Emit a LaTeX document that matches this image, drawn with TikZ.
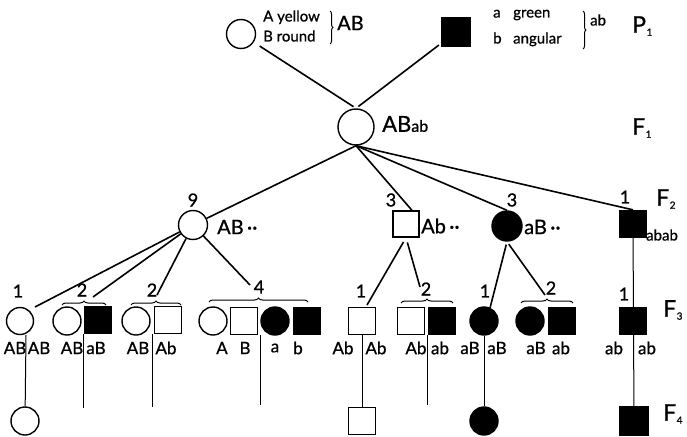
\documentclass[tikz,border=0pt]{standalone}
\usepackage{fontspec}
\setmainfont{Lato}[FakeBold=0.8]
\usepackage{tikz}
\usetikzlibrary{decorations.pathreplacing}

\newcommand{\genlabel}[2]{{\fontsize{23}{24}\selectfont #1}\kern0.5pt\raisebox{-3pt}{\fontsize{10}{12}\selectfont #2}}

\begin{document}
\begin{tikzpicture}[
	x=1pt, y=-1pt,
	every node/.style={inner sep=0pt, font=\fontsize{16}{18}\selectfont},
	wcirc/.style={circle, draw, line width=1.4pt, minimum size=28pt, fill=white},
	bcirc/.style={wcirc, fill=black},
	wsq/.style={rectangle, draw, line width=1.3pt, minimum size=26pt, fill=white},
	bsq/.style={wsq, fill=black},
	link/.style={line width=1.6pt},
	split/.style={line width=1pt},
	grpbrace/.style={decorate, decoration={brace, amplitude=4pt}, line width=1pt},
	vbrace/.style={decorate, decoration={brace, amplitude=3pt}, line width=1pt},
	txt/.style={font=\fontsize{15}{20}\selectfont},
	geno/.style={font=\fontsize{20}{22}\selectfont},
	lab/.style={font=\fontsize{17}{19}\selectfont},
	num/.style={font=\fontsize{18}{20}\selectfont}
	]
	\useasboundingbox (0,0) rectangle (687,436);

	% ---------------- P1 ----------------
	\node[wcirc, minimum size=29pt] (p1w) at (241,34) {};
	\node[txt, anchor=west, align=left] (p1wtxt) at (263,26) {A yellow\\B round};
	\draw[vbrace] (330,11) -- (330,44);
	\node[geno, anchor=west] (p1wgeno) at (337,23) {AB};

	\node[bsq, minimum size=28pt] (p1b) at (456,32) {};
	\node[txt, anchor=west, align=left, font=\fontsize{15}{26}\selectfont] (p1btxt) at (493,28)
		{\makebox[20pt][l]{a}green\\\makebox[20pt][l]{b}angular};
	\draw[vbrace] (583,11) -- (583,49);
	\node[txt, anchor=west] (p1bgeno) at (590,20) {ab};

	\node[anchor=west] (genp) at (632,26) {\genlabel{P}{1}};

	% ---------------- F1 ----------------
	\node[wcirc, minimum size=36pt] (f1) at (356,127) {};
	\node[anchor=west] (f1geno) at (382,124) {{\fontsize{22}{22}\selectfont AB}{\fontsize{16}{16}\selectfont ab}};
	\node[anchor=west] (genf1) at (632,128) {\genlabel{F}{1}};

	\draw[link, shorten <=7pt, shorten >=3pt] (p1w) -- (f1.north);
	\draw[link, shorten <=3pt, shorten >=3pt] (p1b) -- (f1.north);

	% ---------------- F2 ----------------
	\node[wcirc, minimum size=29pt] (f2a) at (193,225) {};
	\node[num] (n2a) at (193,200) {9};
	\node[geno, anchor=west] (f2ageno) at (217,227) {AB\,··};

	\node[wsq] (f2b) at (406,224) {};
	\node[num] (n2b) at (391,200) {3};
	\node[geno, anchor=west] (f2bgeno) at (421,226) {Ab\,··};

	\node[bcirc, minimum size=30pt] (f2c) at (507,226) {};
	\node[num] (n2c) at (512,200) {3};
	\node[geno, anchor=west] (f2cgeno) at (524,227) {aB\,··};

	\node[bsq, minimum size=27pt] (f2d) at (633,224) {};
	\node[num] (n2d) at (625,197) {1};
	\node[txt, anchor=west] (f2dgeno) at (646,235) {abab};
	\node[anchor=west] (genf2) at (656,199) {\genlabel{F}{2}};

	\draw[link] (f1.south) -- (f2a);
	\draw[link] (f1.south) -- ([xshift=6pt]f2b.north);
	\draw[link] (f1.south) -- (f2c.north);
	\draw[link] (f1.south) -- (f2d.north);

	% ---------------- F3 ----------------
	\coordinate (t1) at (35,307);
	\coordinate (t2) at (93,297);
	\coordinate (t3) at (157,295);
	\coordinate (t4) at (250,285);
	\coordinate (t5) at (367,305);
	\coordinate (t6) at (420,287);
	\coordinate (t7) at (490,308);
	\coordinate (t8) at (545,295);

	\draw[link] (f2a) -- (t1);
	\draw[link] (f2a) -- (t2);
	\draw[link] (f2a) -- (t3);
	\draw[link] (f2a) -- (t4);
	\draw[link, shorten <=5pt] (f2b.south) -- (t5);
	\draw[link, shorten <=5pt] (f2b.south) -- (t6);
	\draw[link, shorten <=3pt] (f2c.south) -- (t7);
	\draw[link, shorten <=3pt] (f2c.south) -- (t8);

	% F4 nodes first, the split lines run into them
	\node[wcirc] (f4a) at (25,421) {};
	\node[wsq, minimum size=27pt] (f4b) at (362,421) {};
	\node[bcirc] (f4c) at (484,421) {};
	\node[bsq, minimum size=28pt] (f4d) at (634,421) {};
	\node[anchor=west] (genf4) at (663,414) {\genlabel{F}{4}};

	\draw[split] (f2d) -- (f4d);

	% group 1
	\node[wcirc, minimum size=27pt] (g1a) at (20,321) {};
	\node[num] (n3a) at (18,291) {1};
	\node[lab] (l1a) at (15,348) {AB};
	\node[lab] (l1b) at (39,348) {AB};
	% group 2
	\node[wcirc] (g2a) at (67,321) {};
	\node[bsq, minimum size=27pt] (g2b) at (98,320) {};
	\draw[grpbrace] (62,305) -- (106,305);
	\node[num] (n3b) at (82,290) {2};
	\node[lab] (l2a) at (72,348) {AB};
	\node[lab] (l2b) at (96,348) {aB};
	% group 3
	\node[wcirc] (g3a) at (136,321) {};
	\node[wsq, minimum size=27pt] (g3b) at (168,320) {};
	\node[num] (n3c) at (152,290) {2};
	\draw[grpbrace] (131,305) -- (181,305);
	\node[lab] (l3a) at (138,348) {AB};
	\node[lab] (l3b) at (166,348) {Ab};
	% group 4
	\node[wcirc] (g4a) at (213,321) {};
	\node[wsq, minimum size=27pt] (g4b) at (244,321) {};
	\node[bcirc] (g4c) at (275,321) {};
	\node[bsq, minimum size=27pt] (g4d) at (307,321) {};
	\draw[grpbrace] (209,302) -- (308,302);
	\node[num] (n3d) at (259,287) {4};
	\node[lab] (l4a) at (222,348) {A};
	\node[lab] (l4b) at (245,348) {B};
	\node[lab] (l4c) at (275,348) {a};
	\node[lab] (l4d) at (298,348) {b};
	% group 5
	\node[wsq, minimum size=27pt] (g5a) at (362,321) {};
	\node[num] (n3e) at (361,291) {1};
	\node[lab] (l5a) at (343,348) {Ab};
	\node[lab] (l5b) at (376,348) {Ab};
	% group 6
	\node[wsq, minimum size=27pt] (g6a) at (411,321) {};
	\node[bsq, minimum size=27pt] (g6b) at (442,321) {};
	\draw[grpbrace] (401,303) -- (453,303);
	\node[num] (n3f) at (426,289) {2};
	\node[lab] (l6a) at (416,348) {Ab};
	\node[lab] (l6b) at (440,348) {ab};
	% group 7
	\node[bcirc] (g7a) at (484,321) {};
	\node[num] (n3g) at (485,291) {1};
	\node[lab] (l7a) at (470,348) {aB};
	\node[lab] (l7b) at (497,348) {aB};
	% group 8
	\node[bcirc] (g8a) at (530,321) {};
	\node[bsq, minimum size=27pt] (g8b) at (562,321) {};
	\draw[grpbrace] (521,303) -- (573,303);
	\node[num] (n3h) at (551,288) {2};
	\node[lab] (l8a) at (536,348) {aB};
	\node[lab] (l8b) at (561,348) {ab};
	% group 9
	\node[num] (n3i) at (624,294) {1};
	\node[bsq, minimum size=27pt] (g9a) at (633,321) {};
	\node[lab] (l9a) at (614,348) {ab};
	\node[lab] (l9b) at (647,348) {ab};
	\node[anchor=west] (genf3) at (663,310) {\genlabel{F}{3}};

	% splitting lines down to F4
	\coordinate (d1) at (26,335);
	\coordinate (d2) at (83,334);
	\coordinate (e2) at (83,408);
	\coordinate (d3) at (152,334);
	\coordinate (e3) at (152,407);
	\coordinate (d4) at (260,335);
	\coordinate (e4) at (260,405);
	\coordinate (d6) at (427,335);
	\coordinate (e6) at (427,405);

	\draw[split] (d1) -- (f4a);
	\draw[split] (d2) -- (e2);
	\draw[split] (d3) -- (e3);
	\draw[split] (d4) -- (e4);
	\draw[split] (g5a) -- (f4b);
	\draw[split] (d6) -- (e6);
	\draw[split] (g7a) -- (f4c);

\end{tikzpicture}
\end{document}
